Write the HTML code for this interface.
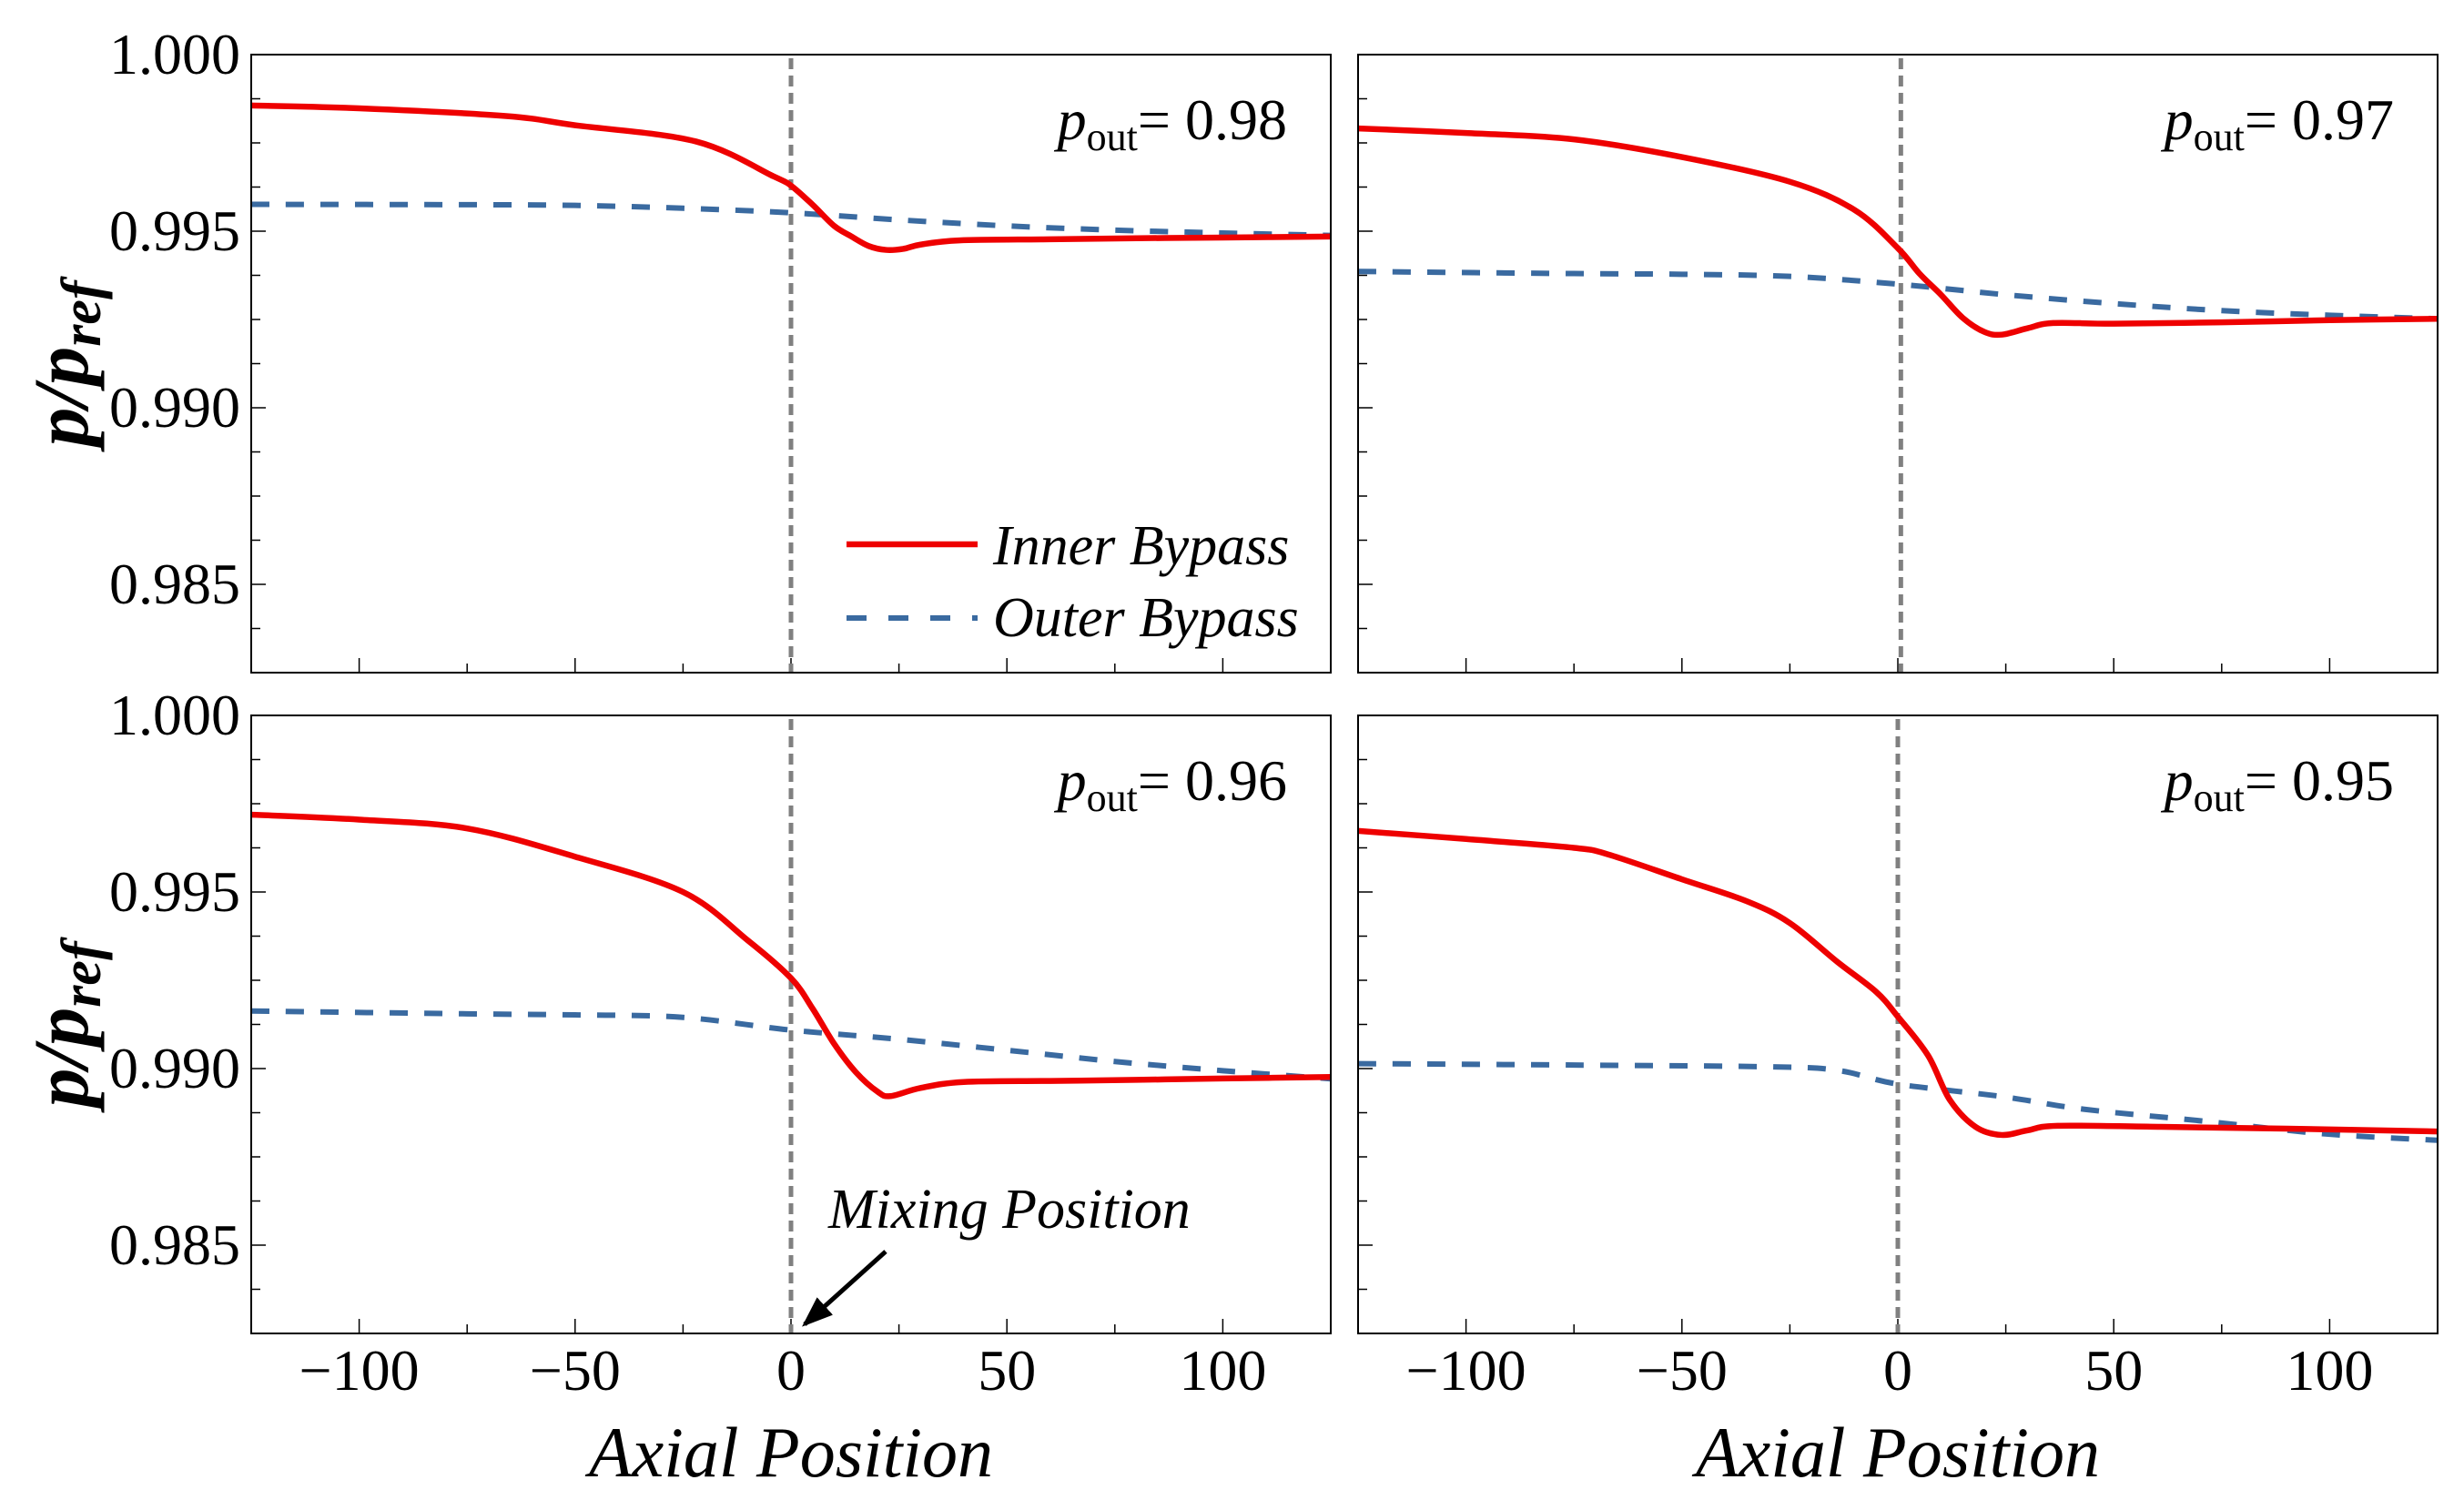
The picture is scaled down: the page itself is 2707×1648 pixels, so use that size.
<!DOCTYPE html>
<html><head><meta charset="utf-8"><style>
html,body{margin:0;padding:0;background:#fff}
svg{display:block}
text{font-family:"Liberation Serif",serif;fill:#000}
</style></head><body>
<svg id="chart" width="2707" height="1648" viewBox="0 0 2707 1648" xmlns="http://www.w3.org/2000/svg">
<defs><marker id="ah" markerWidth="34" markerHeight="26" refX="30" refY="13" orient="auto" markerUnits="userSpaceOnUse" viewBox="0 0 34 26"><path d="M0,0 L34,13 L0,26 z" fill="#000"/></marker></defs>
<g id="root"></g>
</svg>
<script>
const xTicks=[-100,-50,0,50,100];
const yTicks=[1.000,0.995,0.990,0.985];
const yTickLabels=["1.000","0.995","0.990","0.985"];
const pOut=["0.98","0.97","0.96","0.95"];
const xs1=[-125,-100,-66,-50,-22,-4,0,5,10,14,18,22,26,30,39,60,80,100,125];
const inner1=[0.99856,0.99848,0.99826,0.99800,0.99754,0.99655,0.99629,0.99575,0.99515,0.99485,0.99458,0.99447,0.99450,0.99462,0.99474,0.99477,0.99480,0.99482,0.99485];
const xo1=[-125,-75,-50,-25,0,25,50,75,100,125];
const outer1=[0.99576,0.99575,0.99573,0.99565,0.99552,0.99532,0.99515,0.99503,0.99495,0.99488];
const xs2=[-125,-100,-75,-50,-25,-10,0,5,10,15,20,24,30,36,50,75,100,125];
const inner2=[0.99791,0.99778,0.99760,0.99710,0.99640,0.99560,0.99452,0.99380,0.99320,0.99255,0.99215,0.99207,0.99225,0.99240,0.99238,0.99242,0.99248,0.99252];
const xo2=[-125,-75,-50,-25,0,25,50,75,100,125];
const outer2=[0.99386,0.99380,0.99378,0.99372,0.99350,0.99320,0.99295,0.99275,0.99262,0.99252];
const xs3=[-125,-100,-75,-50,-25,-10,0,5,10,15,20,23,30,40,60,80,100,125];
const inner3=[0.99719,0.99705,0.99680,0.99600,0.99500,0.99363,0.99256,0.99170,0.99070,0.98990,0.98935,0.98922,0.98945,0.98962,0.98965,0.98968,0.98972,0.98976];
const xo3=[-125,-75,-50,-25,0,25,50,75,100,125];
const outer3=[0.99163,0.99155,0.99152,0.99145,0.99109,0.99083,0.99052,0.99020,0.98994,0.98971];
const xs4=[-125,-100,-75,-67,-50,-35,-25,-14,-5,0,7,12,18,24,30,37,61,90,125];
const inner4=[0.99673,0.99650,0.99625,0.99606,0.99536,0.99474,0.99412,0.99302,0.99217,0.99147,0.99037,0.98912,0.98835,0.98812,0.98825,0.98838,0.98835,0.98830,0.98822];
const xo4=[-125,-75,-30,-14,0,24,43,71,99,125];
const outer4=[0.99014,0.99010,0.99005,0.98995,0.98956,0.98921,0.98885,0.98851,0.98815,0.98797];

const panels=[
 {l:276,t:60,xs:xs1,inn:inner1,xo:xo1,out:outer1,p:pOut[0],ylab:true,xlab:false,vx:0},
 {l:1492,t:60,xs:xs2,inn:inner2,xo:xo2,out:outer2,p:pOut[1],ylab:false,xlab:false,vx:0.7},
 {l:276,t:786,xs:xs3,inn:inner3,xo:xo3,out:outer3,p:pOut[2],ylab:true,xlab:true,vx:0},
 {l:1492,t:786,xs:xs4,inn:inner4,xo:xo4,out:outer4,p:pOut[3],ylab:false,xlab:true,vx:0},
];
const W=1186,H=679,XMIN=-125,XMAX=125,YMIN=0.9825,YMAX=1.0;
const NS="http://www.w3.org/2000/svg";
const root=document.getElementById('root');
function mk(tag,attrs,parent){const e=document.createElementNS(NS,tag);for(const k in attrs)e.setAttribute(k,attrs[k]);(parent||root).appendChild(e);return e;}
function path(xa,ya,sx,sy){const P=xa.map((x,i)=>[sx(x),sy(ya[i])]);let d=`M${P[0][0]},${P[0][1]}`;
 for(let i=0;i<P.length-1;i++){const p0=P[Math.max(0,i-1)],p1=P[i],p2=P[i+1],p3=P[Math.min(P.length-1,i+2)];
  const c1=[p1[0]+(p2[0]-p0[0])/6,p1[1]+(p2[1]-p0[1])/6],c2=[p2[0]-(p3[0]-p1[0])/6,p2[1]-(p3[1]-p1[1])/6];
  d+=` C${c1[0]},${c1[1]} ${c2[0]},${c2[1]} ${p2[0]},${p2[1]}`;}return d;}
panels.forEach((pn,pi)=>{
 const g=mk('g',{});
 
 
 const sx=x=>pn.l+(x-XMIN)/(XMAX-XMIN)*W;
 const sy=y=>pn.t+(YMAX-y)/(YMAX-YMIN)*H;
 const cp=mk('clipPath',{id:'cp'+pi},g);mk('rect',{x:pn.l,y:pn.t,width:W,height:H},cp);
 for(let v=-100;v<=100;v+=25){const X=sx(v),len=v%50===0?16:10;
  const t1=mk('line',{x1:X,y1:pn.t+H,x2:X,y2:pn.t+H-len,stroke:'#000','stroke-width':1.5},g);
  }
 for(let k=0;k<=14;k++){const v=YMAX-k*0.00125,Y=sy(v),len=k%4===0?16:10;
  const t2=mk('line',{x1:pn.l,y1:Y,x2:pn.l+len,y2:Y,stroke:'#000','stroke-width':1.5},g);
  }
 const vl=mk('line',{x1:sx(pn.vx),y1:pn.t+4,x2:sx(pn.vx),y2:pn.t+H,stroke:'#808080','stroke-width':5,'stroke-dasharray':'12 7'},g);
 
 const o=mk('path',{d:path(pn.xo,pn.out,sx,sy),fill:'none',stroke:'#3a6aa0','stroke-width':6,'stroke-dasharray':'20 18','clip-path':`url(#cp${pi})`},g);
 
 const r=mk('path',{d:path(pn.xs,pn.inn,sx,sy),fill:'none',stroke:'#ee0000','stroke-width':6.5,'clip-path':`url(#cp${pi})`},g);
 
 const fr=mk('rect',{x:pn.l,y:pn.t,width:W,height:H,fill:'none',stroke:'#000','stroke-width':2},g);
 
 const an=mk('text',{x:pn.l+W-48,y:pn.t+93,'text-anchor':'end','font-size':64},g);
 
 an.innerHTML=`<tspan font-style="italic">p</tspan><tspan font-size="44" dy="12">out</tspan><tspan dy="-12">= ${pn.p}</tspan>`;
 if(pn.ylab){
  yTicks.forEach((v,i)=>{const t=mk('text',{x:pn.l-12,y:sy(v)+21,'text-anchor':'end','font-size':64},g);
   t.textContent=yTickLabels[i];});
  const yl=mk('text',{transform:`translate(96,${pn.t+H/2}) rotate(-90)`,'text-anchor':'middle','font-size':86,'font-weight':'bold','font-style':'italic'},g);
  
  yl.innerHTML='p/p<tspan font-size="62" dy="14">ref</tspan>';
 }
 if(pn.xlab){
  xTicks.forEach(v=>{const t=mk('text',{x:sx(v),y:pn.t+H+62,'text-anchor':'middle','font-size':64},g);
   t.textContent=(v<0?'\u2212':'')+Math.abs(v);});
  const xl=mk('text',{x:pn.l+W/2,y:1622,'text-anchor':'middle','font-size':78,'font-style':'italic'},g);
  xl.textContent='Axial Position';
 }
});
const lg=mk('g',{});

mk('line',{x1:930,y1:598,x2:1074,y2:598,stroke:'#ee0000','stroke-width':6.5},lg);
mk('line',{x1:930,y1:679,x2:1074,y2:679,stroke:'#3a6aa0','stroke-width':6,'stroke-dasharray':'22 24'},lg);
const l1=mk('text',{x:1091,y:620,'font-size':62,'font-style':'italic'},lg);l1.textContent='Inner Bypass';

const l2=mk('text',{x:1091,y:699,'font-size':62,'font-style':'italic'},lg);l2.textContent='Outer Bypass';

const mt=mk('text',{x:910,y:1349,'font-size':62,'font-style':'italic'});mt.textContent='Mixing Position';

const ar=mk('line',{x1:973,y1:1375,x2:884,y2:1455,stroke:'#000','stroke-width':5,'marker-end':'url(#ah)'});

</script>
</body></html>
